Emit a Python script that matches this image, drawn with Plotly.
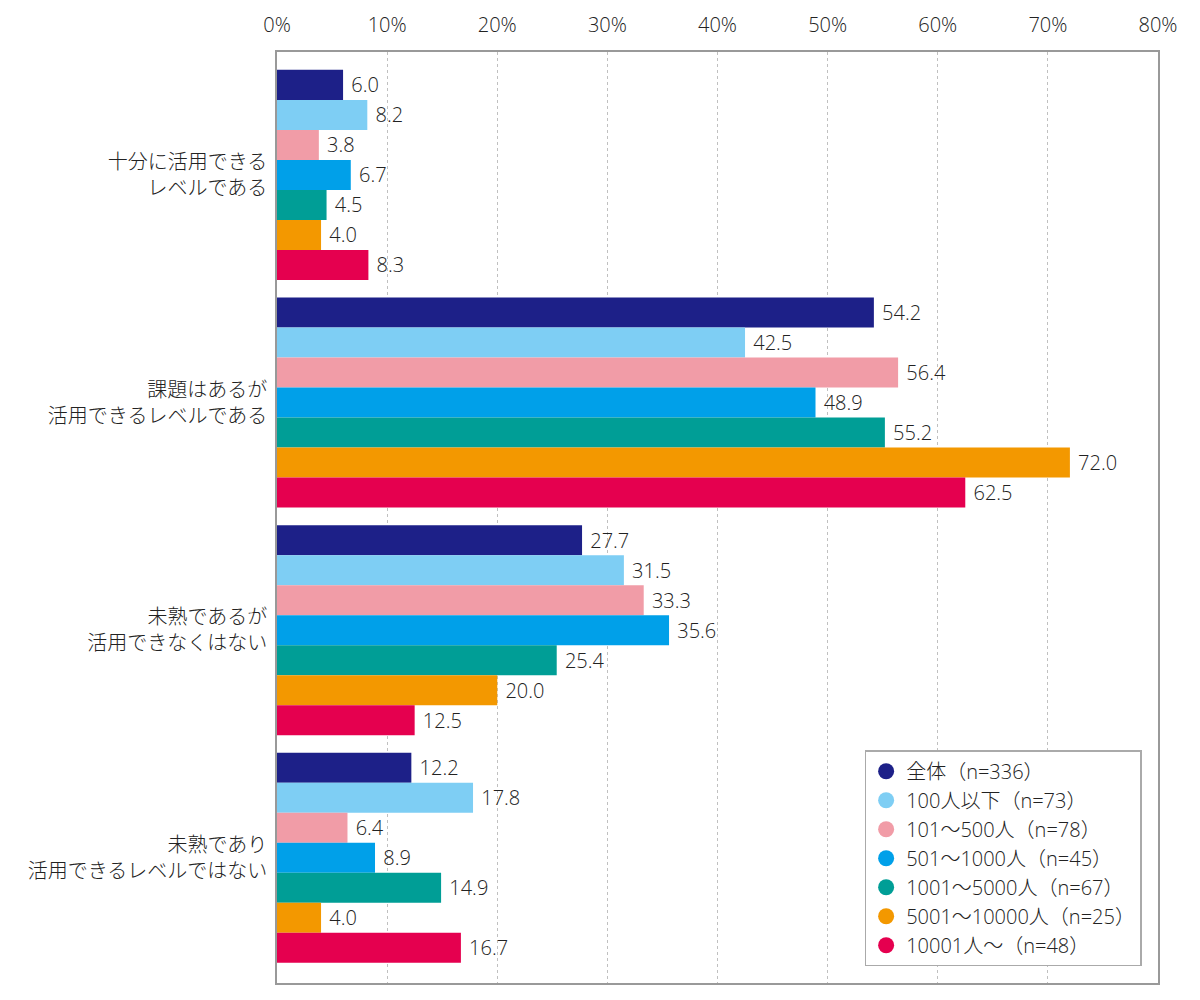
import plotly.graph_objects as go

categories = [
    "十分に活用できる<br>レベルである",
    "課題はあるが<br>活用できるレベルである",
    "未熟であるが<br>活用できなくはない",
    "未熟であり<br>活用できるレベルではない",
]

series_names = [
    "全体（n=336）",
    "100人以下（n=73）",
    "101～500人（n=78）",
    "501～1000人（n=45）",
    "1001～5000人（n=67）",
    "5001～10000人（n=25）",
    "10001人～（n=48）",
]

zentai = [6.0, 54.2, 27.7, 12.2]
under100 = [8.2, 42.5, 31.5, 17.8]
s101_500 = [3.8, 56.4, 33.3, 6.4]
s501_1000 = [6.7, 48.9, 35.6, 8.9]
s1001_5000 = [4.5, 55.2, 25.4, 14.9]
s5001_10000 = [4.0, 72.0, 20.0, 4.0]
over10001 = [8.3, 62.5, 12.5, 16.7]

series_values = [zentai, under100, s101_500, s501_1000, s1001_5000, s5001_10000, over10001]
colors = ["#1d2088", "#7ecef4", "#f19ca7", "#00a0e9", "#009e96", "#f39800", "#e5004f"]

FONT = "Open Sans, Noto Sans CJK JP"
TEXT = "#222222"

fig = go.Figure()

for name, vals, col in zip(series_names, series_values, colors):
    fig.add_trace(go.Bar(
        y=categories, x=vals, name=name, orientation="h",
        marker=dict(color=col, line=dict(width=0)),
        texttemplate=" %{x:.1f}", textposition="outside",
        textfont=dict(size=20, color=TEXT, family=FONT, weight=300),
        cliponaxis=False, showlegend=False,
    ))

# legend entries drawn as circles
for name, col in zip(series_names, colors):
    fig.add_trace(go.Scatter(
        x=[None], y=[None], mode="markers", name=name,
        marker=dict(color=col, size=19, symbol="circle"),
    ))

# page body adds 8px offset, margins compensate
fig.update_layout(
    width=1200, height=1000,
    barmode="group", bargap=0.077, bargroupgap=0,
    paper_bgcolor="white", plot_bgcolor="white",
    margin=dict(l=269, r=50, t=44, b=25),
    font=dict(family=FONT, size=20, color=TEXT, weight=300),
    legend=dict(
        x=0.667, y=0.25, xanchor="left", yanchor="top",
        bordercolor="#aaaaaa", borderwidth=1.5, bgcolor="white",
        font=dict(size=20, color=TEXT, family=FONT, weight=300),
        itemsizing="trace", itemwidth=30,
    ),
)

fig.update_xaxes(
    side="top", range=[0, 80], dtick=10, ticksuffix="%",
    showgrid=True, gridcolor="#c0c0c0", griddash="3px,3px", gridwidth=1,
    showline=True, linecolor="#999999", linewidth=1.5, mirror=True,
    zeroline=False, ticks="", automargin=False, ticklabelstandoff=10,
    tickfont=dict(size=20, color=TEXT, family=FONT, weight=300),
)
fig.update_yaxes(
    range=[3.55, -0.54], showline=True, linecolor="#999999", linewidth=1.5,
    mirror=True, ticks="", ticklabelstandoff=4, automargin=False,
    tickfont=dict(size=20, color=TEXT, family=FONT, weight=300),
)

fig.write_html("out.html")
